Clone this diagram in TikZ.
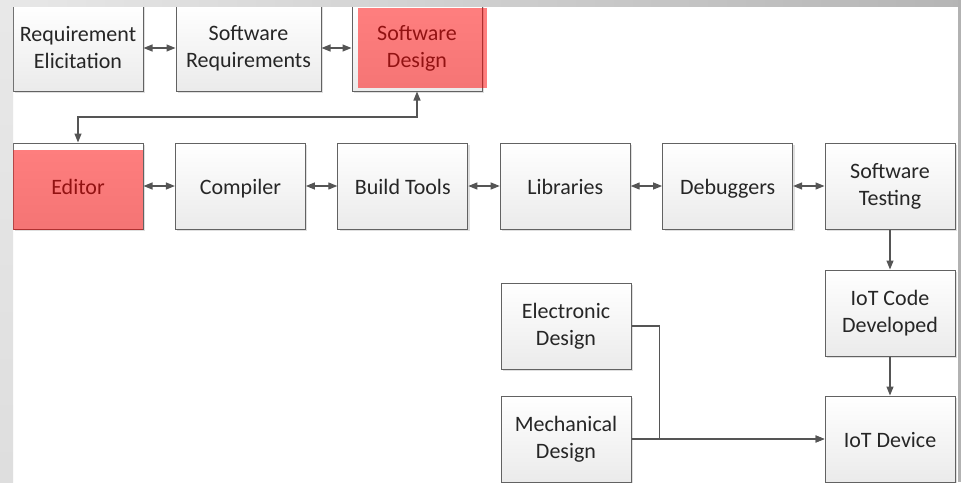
\documentclass[tikz,border=0pt]{standalone}
\usepackage{fontspec}
\setmainfont{Carlito}
\usepackage{tikz}
\usetikzlibrary{arrows.meta,positioning,calc,shadows}

\definecolor{boxline}{HTML}{626262}
\definecolor{boxtext}{HTML}{262626}
\definecolor{linkgray}{HTML}{555555}

\def\boxwidth{130pt}
\def\boxheight{86pt}
\def\boxgap{31.4pt}

\tikzset{
  stepbox/.style={
    draw=boxline, line width=1pt,
    top color=white, bottom color=black!8,
    minimum width=\boxwidth, minimum height=\boxheight,
    inner sep=4pt, align=center, text=boxtext,
    font=\fontsize{22}{27}\selectfont,
    drop shadow={shadow xshift=2pt, shadow yshift=-2pt, opacity=0.25}
  },
  oneline/.style={text height=18pt, text depth=2pt},
  hilite/.style={fill=red, opacity=0.5},
  twoway/.style={{Triangle[length=9pt,width=7pt]}-{Triangle[length=9pt,width=7pt]}, draw=linkgray, line width=1.2pt},
  oneway/.style={-{Triangle[length=9pt,width=7pt]}, draw=linkgray, line width=1.2pt}
}

\begin{document}
\begin{tikzpicture}[x=1pt,y=-1pt]
  \useasboundingbox (0,0) rectangle (961,482);
  \clip (0,0) rectangle (961,482);
  \fill[white] (0,0) rectangle (961,482);

  \node[stepbox] (elicit) at (78,48) {Requirement\\Elicitation};
  \node[stepbox, minimum width=145pt, right=32pt of elicit] (swreq) {Software\\Requirements};
  \node[stepbox, right=30pt of swreq] (design) {Software\\Design};

  \node[stepbox, oneline] (editor) at (78,186) {Editor};
  \node[stepbox, oneline, right=\boxgap of editor] (compiler) {Compiler};
  \node[stepbox, oneline, right=\boxgap of compiler] (build) {Build Tools};
  \node[stepbox, oneline, right=\boxgap of build] (libs) {Libraries};
  \node[stepbox, oneline, right=\boxgap of libs] (debug) {Debuggers};
  \node[stepbox, right=\boxgap of debug] (testing) {Software\\Testing};

  \node[stepbox, below=40pt of testing] (iotcode) {IoT Code\\Developed};
  \node[stepbox, oneline, below=39pt of iotcode] (device) {IoT Device};

  \node[stepbox] (elec) at (566,326) {Electronic\\Design};
  \node[stepbox, below=26pt of elec] (mech) {Mechanical\\Design};

  \draw[twoway] (elicit) -- (swreq);
  \draw[twoway] (swreq) -- (design);
  \draw[twoway] (editor) -- (compiler);
  \draw[twoway] (compiler) -- (build);
  \draw[twoway] (build) -- (libs);
  \draw[twoway] (libs) -- (debug);
  \draw[twoway] (debug) -- (testing);
  \draw[twoway] (editor.north) |- ($ (editor.north)!0.5!(design.south) $) -| (design.south);

  \draw[oneway] (testing) -- (iotcode);
  \draw[oneway] (iotcode) -- (device);
  \draw[oneway] (elec.east) -- ++(28,0) |- (device.west);
  \draw[oneway] (mech.east) -- (device.west);

  \fill[hilite] ($ (design.north west) + (6,3) $) rectangle ($ (design.south east) + (4,-4) $);
  \fill[hilite] ($ (editor.north west) + (0,7) $) rectangle ($ (editor.south east) + (-1,0) $);

  \fill[left color=black!9, right color=black!29] (0,0) rectangle (961,6);
  \fill[top color=black!9, bottom color=black!13] (0,6) rectangle (13,482);
  \fill[black!30] (958,0) rectangle (961,482);
\end{tikzpicture}
\end{document}
